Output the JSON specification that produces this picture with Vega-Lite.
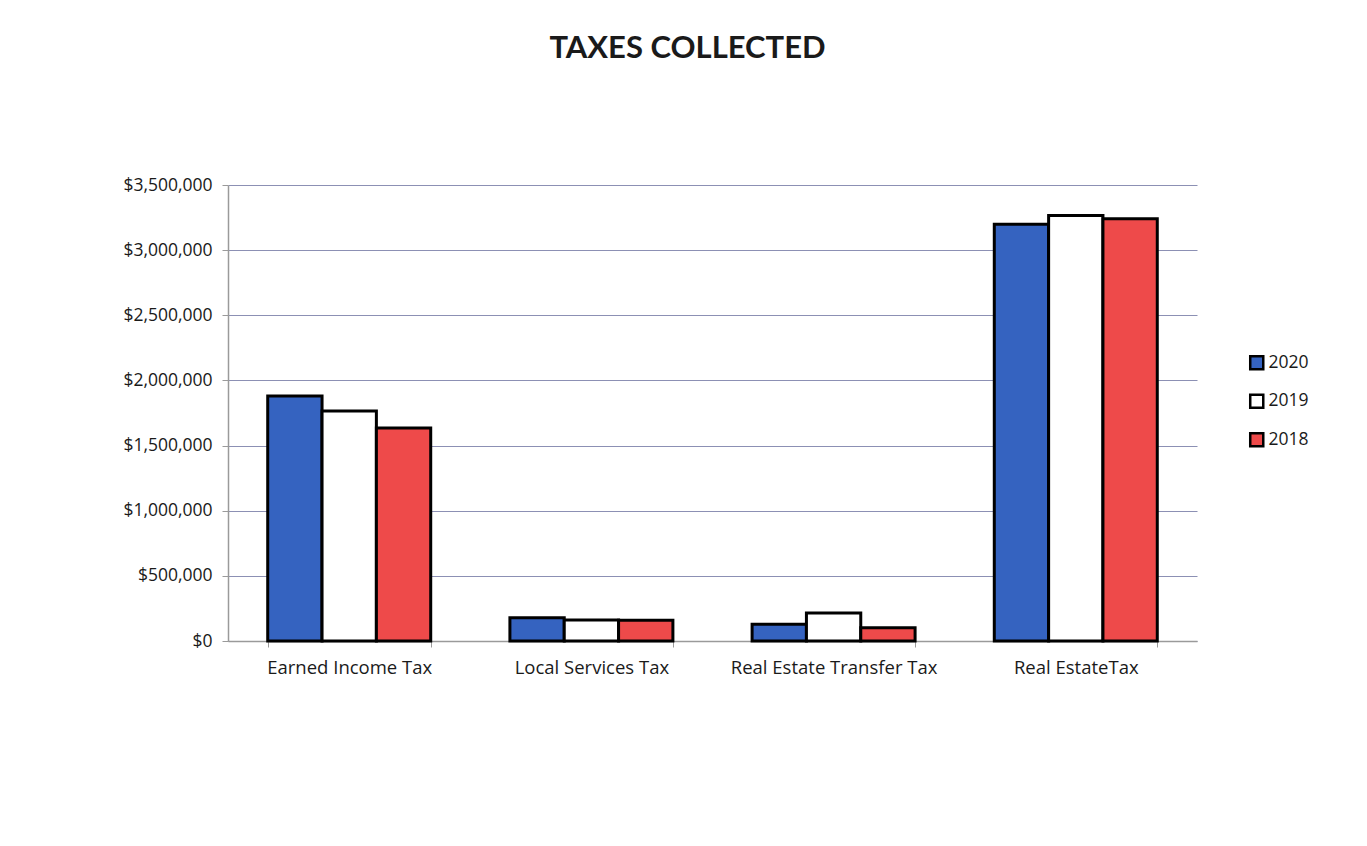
{
  "$schema": "https://vega.github.io/schema/vega-lite/v6.json",
  "width": 969,
  "height": 456,
  "autosize": "none",
  "padding": {"left": 228, "top": 185, "right": 170, "bottom": 205},
  "background": "white",
  "title": {
    "text": "TAXES COLLECTED",
    "font": "Lato",
    "fontSize": 31,
    "fontWeight": "bold",
    "color": "#1a1a1a",
    "anchor": "middle",
    "frame": "group",
    "dx": -25,
    "offset": 80,
    "baseline": "bottom"
  },
  "data": {
    "values": [
      {"category": "Earned Income Tax", "year": "2020", "value": 1880000},
      {"category": "Earned Income Tax", "year": "2019", "value": 1765000},
      {"category": "Earned Income Tax", "year": "2018", "value": 1635000},
      {"category": "Local Services Tax", "year": "2020", "value": 178000},
      {"category": "Local Services Tax", "year": "2019", "value": 162000},
      {"category": "Local Services Tax", "year": "2018", "value": 160000},
      {"category": "Real Estate Transfer Tax", "year": "2020", "value": 128000},
      {"category": "Real Estate Transfer Tax", "year": "2019", "value": 215000},
      {"category": "Real Estate Transfer Tax", "year": "2018", "value": 102000},
      {"category": "Real EstateTax", "year": "2020", "value": 3198000},
      {"category": "Real EstateTax", "year": "2019", "value": 3266000},
      {"category": "Real EstateTax", "year": "2018", "value": 3240000}
    ]
  },
  "mark": {"type": "bar", "stroke": "black", "strokeWidth": 3, "strokeJoin": "miter"},
  "encoding": {
    "x": {
      "field": "category",
      "type": "nominal",
      "sort": null,
      "title": null,
      "scale": {"paddingInner": 0.327, "paddingOuter": 0.164},
      "axis": {
        "labelAngle": 0,
        "labelFont": "Open Sans",
        "labelFontSize": 18.5,
        "labelLimit": 400,
        "labelColor": "#1a1a1a",
        "labelPadding": 11,
        "tickBand": "extent",
        "tickSize": 6,
        "tickColor": "#9a9a9a",
        "domainColor": "#9a9a9a",
        "domainWidth": 1.5,
        "grid": false
      }
    },
    "xOffset": {"field": "year", "type": "nominal", "sort": ["2020", "2019", "2018"]},
    "y": {
      "field": "value",
      "type": "quantitative",
      "title": null,
      "scale": {"domain": [0, 3500000], "nice": false},
      "axis": {
        "values": [0, 500000, 1000000, 1500000, 2000000, 2500000, 3000000, 3500000],
        "format": "$,.0f",
        "labelFont": "Open Sans",
        "labelFontSize": 17.5,
        "labelColor": "#1a1a1a",
        "labelPadding": 10,
        "tickSize": 6,
        "tickColor": "#9a9a9a",
        "domainColor": "#9a9a9a",
        "domainWidth": 1.5,
        "gridColor": "#8c90b4",
        "gridWidth": 1.2
      }
    },
    "fill": {
      "field": "year",
      "type": "nominal",
      "sort": ["2020", "2019", "2018"],
      "scale": {"domain": ["2020", "2019", "2018"], "range": ["#3563c0", "#ffffff", "#ee4a4a"]},
      "legend": {
        "title": null,
        "orient": "none",
        "legendX": 1020,
        "legendY": 169,
        "symbolType": "square",
        "symbolSize": 170,
        "symbolStrokeColor": "black",
        "symbolStrokeWidth": 2.5,
        "labelFont": "Open Sans",
        "labelFontSize": 17.5,
        "labelColor": "#1a1a1a",
        "rowPadding": 14.5,
        "labelOffset": 3
      }
    }
  },
  "config": {"view": {"stroke": null}}
}
